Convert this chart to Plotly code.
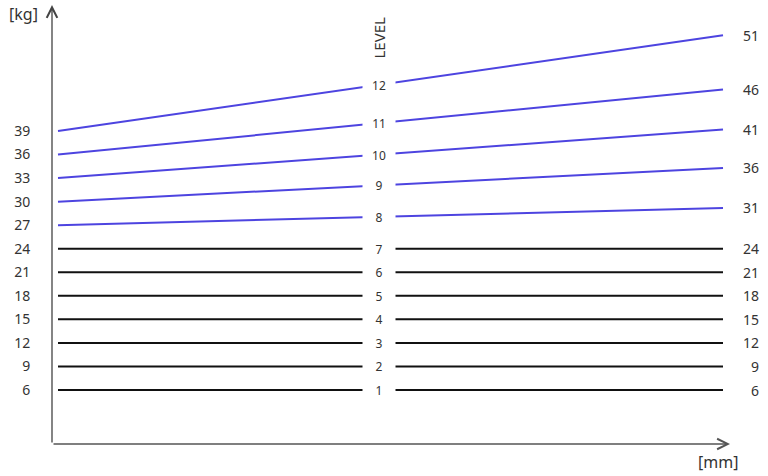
import plotly.graph_objects as go

# ---- data ----
levels = [1, 2, 3, 4, 5, 6, 7, 8, 9, 10, 11, 12]
min_kg = [6, 9, 12, 15, 18, 21, 24, 27, 30, 33, 36, 39]          # weight at start of range (left)
max_kg = [6, 9, 12, 15, 18, 21, 24, 31, 36, 41, 46, 51]          # weight at end of range (right labels)
# height of each line's right end as drawn, read on the left kg scale
max_drawn = [6, 9, 12, 15, 18, 21, 24, 29.2, 34.3, 39.2, 44.3, 51.2]
x_start, x_end = 0, 100
label_x = 48.2

W, H = 768, 476
ml, mr, mt, mb = 52, 6, 5, 32
px_per_x = (723 - 58) / (x_end - x_start)
x_min = x_start - (58 - ml) / px_per_x
x_max = x_start + (W - mr - 58) / px_per_x
px_per_kg = (390 - 131) / (39 - 6)
y_max = 6 + (390 - mt) / px_per_kg
y_min = 6 - (H - mb - 390) / px_per_kg
x_arrow = x_start + (730 - 58) / px_per_x

BLUE = "#4d44e0"
BLACK = "#111111"
TXT = "#333333"
FONT = "Noto Sans"

fig = go.Figure()
for lv, a, b in zip(levels, min_kg, max_drawn):
    fig.add_trace(go.Scatter(
        x=[x_start, x_end], y=[a, b], mode="lines",
        line=dict(color=BLUE if lv >= 8 else BLACK, width=2),
        showlegend=False, hoverinfo="skip"))

annotations = []
for lv, a, b in zip(levels, min_kg, max_drawn):
    ym = a + (b - a) * (label_x - x_start) / (x_end - x_start)
    annotations.append(dict(
        x=label_x, y=ym, xref="x", yref="y", text=str(lv), showarrow=False,
        font=dict(family=FONT, size=12, color=TXT), bgcolor="white",
        width=30, height=16, borderpad=1, xanchor="center", yanchor="middle"))

# right-hand labels: maximum weight of each level
for v, t in zip(max_drawn, max_kg):
    annotations.append(dict(
        x=1, y=v, xref="paper", yref="y", text=str(t), showarrow=False,
        font=dict(family=FONT, size=14, color=TXT),
        xanchor="right", yanchor="middle", xshift=-1))

annotations.append(dict(x=label_x, y=y_max - (10 / px_per_kg), xref="x", yref="y",
                        text="LEVEL", textangle=-90, showarrow=False,
                        font=dict(family=FONT, size=15, color=TXT),
                        xanchor="center", yanchor="top"))
annotations.append(dict(x=0, y=1, xref="paper", yref="paper", text="[kg]",
                        showarrow=False, font=dict(family=FONT, size=16, color=TXT),
                        xanchor="right", yanchor="top", xshift=-12, yshift=4))
annotations.append(dict(x=x_arrow, y=y_min, xref="x", yref="y", text="[mm]",
                        showarrow=False, font=dict(family=FONT, size=16, color=TXT),
                        xanchor="right", yanchor="top", xshift=10, yshift=-5))
# axis arrows
annotations.append(dict(x=x_min, y=y_max, ax=x_min, ay=y_min, xref="x", yref="y",
                        axref="x", ayref="y", text="", showarrow=True,
                        arrowhead=5, arrowsize=1.6, arrowwidth=1.3, arrowcolor="#444444"))
annotations.append(dict(x=x_arrow, y=y_min, ax=x_min, ay=y_min, xref="x", yref="y",
                        axref="x", ayref="y", text="", showarrow=True,
                        arrowhead=5, arrowsize=1.6, arrowwidth=1.3, arrowcolor="#555555"))

fig.update_layout(
    width=W, height=H, margin=dict(l=ml, r=mr, t=mt, b=mb, autoexpand=False),
    paper_bgcolor="white", plot_bgcolor="white",
    font=dict(family=FONT, color=TXT),
    xaxis=dict(range=[x_min, x_max], showgrid=False, zeroline=False, showline=False,
               showticklabels=False, ticks="", automargin=False),
    yaxis=dict(range=[y_min, y_max], showgrid=False, zeroline=False, showline=False,
               tickvals=min_kg, ticktext=[str(v) for v in min_kg],
               ticks="outside", ticklen=18, tickcolor="rgba(0,0,0,0)", automargin=False,
               tickfont=dict(family=FONT, size=14, color=TXT)),
    annotations=annotations,
)

fig.write_html("out.html", config={"displayModeBar": False},
               post_script="document.body.style.margin='0';document.body.style.overflow='hidden';")
